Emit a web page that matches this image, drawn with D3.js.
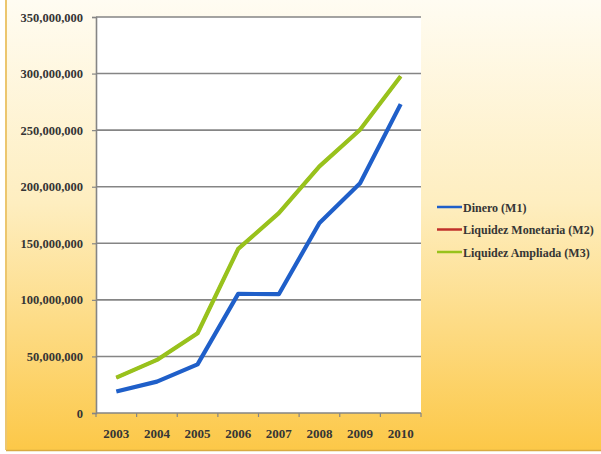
<!DOCTYPE html>
<html>
<head>
<meta charset="utf-8">
<script src="https://cdn.jsdelivr.net/npm/d3@7"></script>
<style>
  html, body { margin: 0; padding: 0; background: #ffffff; }
  svg { display: block; }
</style>
</head>
<body>
<svg id="chart" width="601" height="454"></svg>
<script>
// ---- data ----
const years = ["2003", "2004", "2005", "2006", "2007", "2008", "2009", "2010"];
const seriesNames = ["Dinero (M1)", "Liquidez Monetaria (M2)", "Liquidez Ampliada (M3)"];
const m1 = [19000000, 27700000, 43000000, 105300000, 105000000, 167900000, 203000000, 273000000];
const m2 = [31200000, 46900000, 70500000, 145000000, 176700000, 218000000, 250400000, 297600000];
const m3 = [31200000, 46900000, 70500000, 145000000, 176700000, 218000000, 250400000, 297600000];
const yTicks = [0, 50000000, 100000000, 150000000, 200000000, 250000000, 300000000, 350000000];
const seriesColors = ["#1f5fc9", "#c0302a", "#98c21c"];

(function () {
const svg = d3.select("#chart");

// background panel with gradient
const defs = svg.append("defs");
const grad = defs.append("linearGradient").attr("id", "bg").attr("x1", 0).attr("y1", 0).attr("x2", 0).attr("y2", 1);
grad.append("stop").attr("offset", "0%").attr("stop-color", "#fffcf2");
grad.append("stop").attr("offset", "45%").attr("stop-color", "#feeec0");
grad.append("stop").attr("offset", "100%").attr("stop-color", "#fcc848");

svg.append("rect").attr("x", 6).attr("y", 0).attr("width", 595).attr("height", 450).attr("fill", "url(#bg)");
svg.append("line").attr("x1", 6).attr("x2", 6).attr("y1", 0).attr("y2", 450)
  .attr("stroke", "#ecc66e").attr("stroke-width", 2);
svg.append("line").attr("x1", 6).attr("x2", 601).attr("y1", 450.5).attr("y2", 450.5)
  .attr("stroke", "#d8aa40").attr("stroke-width", 1.5);

// scales
const pl = 96, pr = 421, pt = 17, pb = 413;
const x = d3.scaleBand().domain(years).range([pl, pr]).padding(0);
const y = d3.scaleLinear().domain([0, 350000000]).range([pb, pt]);

// plot area
svg.append("rect").attr("x", pl).attr("y", pt).attr("width", pr - pl).attr("height", pb - pt)
  .attr("fill", "#ffffff");

// gridlines
svg.append("g").selectAll("line").data(yTicks).join("line")
  .attr("x1", pl).attr("x2", pr)
  .attr("y1", d => y(d)).attr("y2", d => y(d))
  .attr("stroke", "#858585").attr("stroke-width", 1.6);

// y axis
const fmt = d3.format(",");
const yAxis = svg.append("g").attr("transform", `translate(${pl},0)`)
  .call(d3.axisLeft(y).tickValues(yTicks).tickSize(4).tickPadding(9).tickFormat(d => fmt(d)));
yAxis.select(".domain").attr("stroke", "#858585").attr("stroke-width", 1.6);
yAxis.selectAll(".tick line").attr("stroke", "#858585").attr("stroke-width", 1.2);
yAxis.selectAll("text").attr("font-family", "'Liberation Serif', serif").attr("font-weight", "bold")
  .attr("font-size", 12.5).attr("fill", "#353535");

// x axis: ticks at band boundaries, labels at band centers
const xAxis = svg.append("g").attr("transform", `translate(0,${pb})`);
const bounds = years.map(d => x(d)).concat([pr]);
xAxis.selectAll("line.tk").data(bounds).join("line").attr("class", "tk")
  .attr("x1", d => d).attr("x2", d => d).attr("y1", 0).attr("y2", 4)
  .attr("stroke", "#858585").attr("stroke-width", 1.2);
xAxis.selectAll("text").data(years).join("text")
  .attr("x", d => x(d) + x.bandwidth() / 2).attr("y", 25)
  .attr("text-anchor", "middle")
  .attr("font-family", "'Liberation Serif', serif").attr("font-weight", "bold")
  .attr("font-size", 13).attr("fill", "#353535").text(d => d);

// lines
const line = d3.line().x((d, i) => x(years[i]) + x.bandwidth() / 2).y(d => y(d));
const allSeries = [m1, m2, m3];
const widths = [4.2, 3.0, 4.2];
svg.append("g").selectAll("path").data(allSeries).join("path")
  .attr("d", d => line(d))
  .attr("fill", "none")
  .attr("stroke", (d, i) => seriesColors[i])
  .attr("stroke-width", (d, i) => widths[i])
  .attr("stroke-linejoin", "round");

// legend
const legend = svg.append("g");
const legY = [207, 229.5, 252];
seriesNames.forEach((name, i) => {
  legend.append("line").attr("x1", 437).attr("x2", 462).attr("y1", legY[i]).attr("y2", legY[i])
    .attr("stroke", seriesColors[i]).attr("stroke-width", 2.5);
  legend.append("text").attr("x", 463).attr("y", legY[i] + 4.5)
    .attr("font-family", "'Liberation Serif', serif").attr("font-weight", "bold")
    .attr("font-size", 12).attr("fill", "#353535").text(name);
});
})();
</script>
</body>
</html>
